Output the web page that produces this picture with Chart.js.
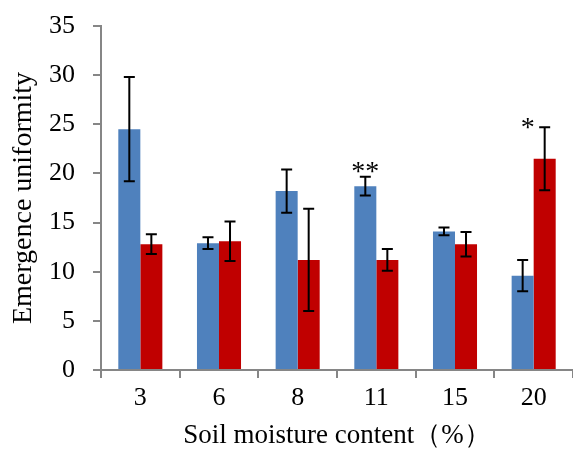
<!DOCTYPE html>
<html>
<head>
<meta charset="utf-8">
<script src="https://cdn.jsdelivr.net/npm/chart.js@4/dist/chart.umd.min.js"></script>
<style>
  html, body { margin: 0; padding: 0; background: #fff; }
</style>
</head>
<body>
<canvas id="chart" width="573" height="452"></canvas>
<script>
const moisture = ["3", "6", "8", "11", "15", "20"];
const blueValues = [24.5, 12.9, 18.2, 18.7, 14.1, 9.6];
const blueErrors = [5.3, 0.6, 2.2, 0.95, 0.4, 1.6];
const redValues = [12.8, 13.1, 11.2, 11.2, 12.8, 21.5];
const redErrors = [1.0, 2.0, 5.2, 1.1, 1.25, 3.2];
const blueMarks = ["", "", "", "**", "", ""];
const redMarks = ["", "", "", "", "", "*"];
const yTicks = [0, 5, 10, 15, 20, 25, 30, 35];

const serif = "'Liberation Serif', 'Times New Roman', serif";
const axisGrey = "#868686";

// error bars and significance stars drawn over the bars
const errorBars = {
  id: "errorBars",
  afterDatasetsDraw(chart) {
    const ctx = chart.ctx;
    const y = chart.scales.y;
    chart.data.datasets.forEach((ds, di) => {
      const meta = chart.getDatasetMeta(di);
      meta.data.forEach((bar, i) => {
        const v = ds.data[i], e = ds.errors[i];
        const top = y.getPixelForValue(v + e);
        const bot = y.getPixelForValue(v - e);
        ctx.save();
        ctx.strokeStyle = "#000";
        ctx.lineWidth = 2;
        ctx.beginPath();
        ctx.moveTo(bar.x, top); ctx.lineTo(bar.x, bot);
        ctx.moveTo(bar.x - 5.5, top); ctx.lineTo(bar.x + 5.5, top);
        ctx.moveTo(bar.x - 5.5, bot); ctx.lineTo(bar.x + 5.5, bot);
        ctx.stroke();
        const mark = ds.marks[i];
        if (mark) {
          ctx.fillStyle = "#000";
          ctx.font = "28px " + serif;
          ctx.textAlign = "center";
          ctx.textBaseline = "alphabetic";
          const dx = mark.length === 1 ? -17 : 0;
          const dy = mark.length === 1 ? 9 : 3;
          ctx.fillText(mark, bar.x + dx, top + dy);
        }
        ctx.restore();
      });
    });
  }
};

new Chart(document.getElementById("chart"), {
  type: "bar",
  data: {
    labels: moisture,
    datasets: [
      { label: "A", data: blueValues, errors: blueErrors, marks: blueMarks, backgroundColor: "#4F81BD" },
      { label: "B", data: redValues, errors: redErrors, marks: redMarks, backgroundColor: "#C00000" }
    ]
  },
  options: {
    responsive: false,
    animation: false,
    layout: { padding: { top: 26, right: 0, left: 0, bottom: 0 } },
    plugins: { legend: { display: false }, tooltip: { enabled: false } },
    datasets: { bar: { categoryPercentage: 0.56, barPercentage: 1.0 } },
    scales: {
      x: {
        grid: { drawOnChartArea: false, drawTicks: true, tickLength: 8, color: axisGrey, lineWidth: 2 },
        border: { color: axisGrey, width: 2 },
        ticks: { color: "#000", font: { family: serif, size: 26 }, padding: 5 },
        title: { display: true, text: "Soil moisture content（%）", color: "#000",
                 font: { family: serif, size: 27 }, padding: { top: 0, bottom: 0 } },
        afterFit(s) { s.height = 82; s.paddingRight = 0; s.paddingLeft = 0; }
      },
      y: {
        min: 0, max: 35,
        afterBuildTicks(s) { s.ticks = yTicks.map(v => ({ value: v })); },
        grid: { drawOnChartArea: false, drawTicks: true, tickLength: 8, color: axisGrey, lineWidth: 2 },
        border: { color: axisGrey, width: 2 },
        ticks: { color: "#000", font: { family: serif, size: 26 }, padding: 18 },
        title: { display: true, text: "Emergence uniformity", color: "#000",
                 font: { family: serif, size: 28 }, padding: { top: 7, bottom: 0 } },
        afterFit(s) { s.width = 101; s.paddingTop = 0; s.paddingBottom = 0; }
      }
    }
  },
  plugins: [errorBars]
});
</script>
</body>
</html>
